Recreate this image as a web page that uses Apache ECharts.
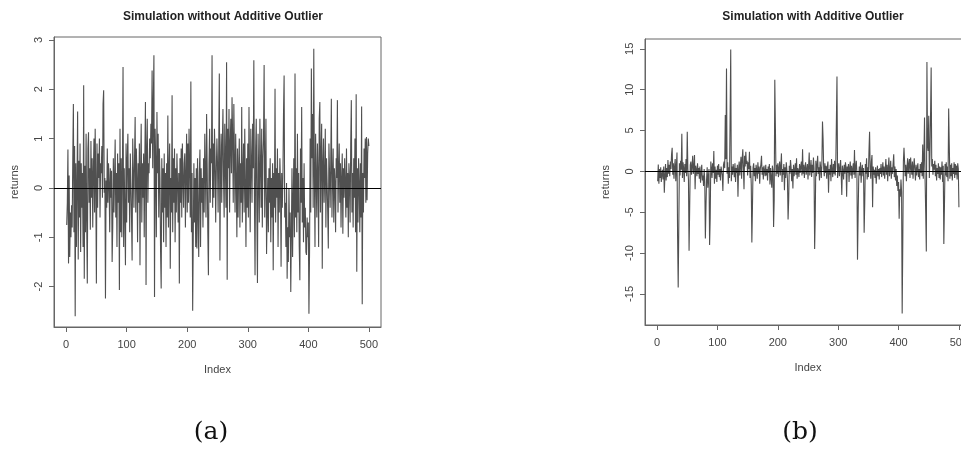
<!DOCTYPE html>
<html>
<head>
<meta charset="utf-8">
<script src="https://cdn.jsdelivr.net/npm/echarts@6/dist/echarts.min.js"></script>
<style>
  html, body { margin: 0; padding: 0; background: #fff; overflow: hidden; }
  /* the right panel runs past the page edge, as in the original figure */
  #chart { width: 1000px; height: 450px; }
</style>
</head>
<body>
<div id="chart"></div>
<script>
// returns, index 1..500
const simWithout = [
  -0.75, -0.3, 0.78, -1.53, 0.25, -1.4, -0.5, -1.0, -0.35, -0.8, 0.6, 1.7, -0.9, 0.85, -2.6, 0.5, -1.2, 0.1, 1.55, -1.45,
  0.55, -0.6, 0.9, -1.3, 0.5, -0.4, 0.3, -1.2, 2.08, -1.84, 0.45, -0.9, 1.1, -0.7, -1.94, 0.8, 1.13, -0.3, 0.4, -0.85,
  0.95, -0.2, 0.6, -0.8, 0.3, 1.0, -0.5, 1.2, 0.1, -1.94, 0.9, -0.4, 0.7, 0.2, 1.0, -0.6, 0.5, 0.3, 0.85, -0.2,
  1.7, 1.98, -0.1, 0.2, -2.24, 0.15, -0.4, 0.8, -0.3, 0.5, 0.1, -0.9, 0.4, -0.2, 0.35, -1.5, -0.8, 0.6, -0.5, 0.2,
  0.98, -0.6, 0.3, -1.2, 0.7, -0.3, 0.5, -2.07, 1.2, -0.9, 0.6, -1.0, 0.3, 2.45, -1.2, 0.4, -0.5, -1.57, 0.9, -0.7,
  0.6, 1.1, -0.3, 0.4, -0.9, 0.7, 0.1, -0.6, -1.47, 1.0, 0.3, -0.4, 0.6, 1.44, -0.5, 0.8, 0.2, -1.1, 0.5, -0.3,
  0.9, -1.57, 0.4, 1.3, -0.7, 0.5, -0.2, 0.7, -1.0, 0.6, 1.74, -1.97, 0.8, 1.4, -0.3, 0.5, 0.3, 1.0, 0.6, 1.3,
  0.9, 2.38, 0.4, 1.7, 2.69, -2.21, 1.2, 0.5, -1.0, 1.54, 0.3, 1.1, -0.6, 0.8, 0.2, -1.3, -2.04, 0.6, -0.5, 0.4,
  -1.1, 0.7, -0.4, 0.3, -1.2, 0.5, -0.6, 1.47, -0.8, 0.4, 0.9, -1.64, 0.2, -0.5, 1.88, -0.9, 0.6, -0.3, 0.8, -1.1,
  0.4, -0.5, 0.7, 0.1, -0.7, 0.3, -1.94, 0.6, -0.3, 0.8, -0.6, 0.9, 0.2, -0.4, 0.5, 0.7, -0.8, 0.3, 1.1, -0.5,
  0.9, -0.3, 1.2, 0.4, -0.6, 2.16, -0.9, 0.3, -2.49, -1.0, 0.5, -0.7, 0.2, -1.2, 0.4, -1.23, 0.6, -0.5, -1.4, 0.3,
  0.78, -1.2, 0.4, -0.3, 0.2, -0.8, 0.6, -0.5, 1.1, 0.3, -0.6, 1.5, 0.4, -0.9, -1.77, 0.5, 1.2, -0.3, 0.8, 0.5,
  2.69, -0.4, 0.9, -0.2, 1.2, 0.6, -0.7, 0.3, 1.0, 0.5, -0.5, 0.8, 2.32, -1.47, 0.4, 1.1, -0.3, 0.9, 1.6, 0.2,
  -0.6, 1.3, 0.5, -0.4, 2.55, -1.86, 1.2, 0.4, 1.6, -0.5, 0.9, 1.4, 0.3, 1.84, 1.0, -0.3, 1.7, 0.6, -0.5, 1.1,
  0.2, -1.0, 0.8, -0.6, 0.4, 1.0, -0.8, 0.5, -0.3, 1.64, -0.7, 0.3, 0.9, -0.5, 1.2, 0.1, -1.2, 0.6, -0.4, 0.9,
  -0.6, 1.64, 0.2, -0.9, 1.2, 0.5, -0.3, 1.3, 0.4, 2.59, -0.2, -1.77, 0.8, 1.4, -0.5, -1.93, 1.1, 0.3, -0.7, 1.4,
  0.5, -0.4, 1.2, -0.8, 0.6, 1.0, 2.49, -0.6, 0.3, 1.4, -1.34, -0.5, 0.2, -0.9, 0.4, -0.3, 0.6, -1.1, 0.2, -0.6,
  0.5, -1.67, 0.3, -0.4, 2.01, -0.7, 0.4, -0.2, 0.8, -1.2, 0.3, -0.5, 0.6, 0.1, -1.6, 0.3, -0.4, 0.2, 1.5, 2.28,
  -0.6, -0.3, -1.2, 0.1, -1.84, -0.8, -1.5, 0.0, -1.0, -0.5, -2.11, -0.9, 0.4, -1.4, -0.2, 0.6, -1.0, 2.32, -0.6, 0.4,
  -0.9, 1.1, -0.5, 0.3, -1.2, -1.87, 0.8, -0.3, 1.64, -0.7, 0.2, -1.1, 0.5, -0.8, -0.4, -1.3, -1.36, -0.6, -1.0, -0.7,
  -2.55, -1.3, 1.0, -0.5, 2.42, 0.6, 1.5, -0.4, 2.82, 0.3, -1.2, 1.1, 0.2, -0.6, 0.9, 0.3, -1.2, 1.4, 1.74, -0.5,
  0.7, 1.3, -1.64, 0.5, 1.0, -0.3, 0.2, 1.2, -0.8, 0.6, 0.1, -0.5, -1.23, 0.9, 0.3, -0.4, 0.5, 1.81, -0.6, 0.2,
  0.8, -0.7, 0.4, 0.1, -0.9, 0.6, 0.2, 1.78, -0.5, 0.3, 0.9, -0.3, 0.5, -0.8, 0.2, 0.7, -0.93, 0.4, -0.2, 0.6,
  0.1, -0.6, 0.8, -0.4, 0.3, -1.0, 0.5, 0.2, -0.7, 0.9, 1.78, -0.5, 0.3, -0.8, 0.6, -0.2, 1.0, -0.9, 1.9, -1.7,
  0.4, -0.7, 0.6, 0.1, -0.9, 0.5, -0.6, 1.65, -2.36, 0.3, -0.5, 0.8, 0.2, 1.0, -0.3, 1.03, -0.25, 0.7, 1.0, 0.85
]

// returns (with the additive outliers), index 1..500
const simWith = [
  -1.2, 0.85, -1.5, 0.3, -0.8, 0.5, -1.3, -0.4, 0.2, -1.0, 0.6, -2.6, -0.5, 0.9, -1.1, 0.4, -0.7, 1.4, -0.3, 0.8,
  -0.6, 1.2, 0.3, 2.1, 2.9, -0.4, 1.0, -0.9, 0.6, 1.5, -1.2, 0.7, 2.3, -8.1, -14.2, -6.6, 1.0, -0.5, 1.3, 0.2,
  4.6, -0.8, 1.1, 0.4, -1.3, 0.9, -0.2, 1.5, -0.6, 4.85, 0.3, -1.0, -9.7, -4.5, 0.8, 1.2, -0.4, 0.6, 1.9, -0.3,
  0.5, 2.0, -2.2, 0.7, 0.2, -0.6, 1.0, -0.3, 0.4, -0.9, 0.6, -1.4, -0.2, 0.8, -1.1, -0.5, -1.8, 0.3, -1.2, -8.2,
  -4.3, -1.0, 0.5, -2.0, -0.6, 0.3, -9.0, -5.7, 1.2, 0.4, -0.8, 1.0, -0.2, 2.5, -1.5, 0.6, -0.9, 0.2, -1.3, 0.7,
  -0.4, 0.9, -0.7, 0.3, -1.1, 0.6, 0.1, -0.5, -2.4, 0.8, 1.2, 0.4, 6.9, 1.5, 12.6, -0.3, 1.1, -1.5, 0.5, -0.8,
  6.8, 14.9, -1.2, 0.6, -0.4, 0.9, 0.2, -0.7, 1.0, -1.3, 0.4, -0.2, 0.8, -3.1, 0.3, 1.2, -0.5, 0.7, 1.8, -0.9,
  1.5, 2.7, 0.4, -2.2, 1.9, 0.6, 2.4, 0.9, 1.3, -0.5, 1.1, 0.3, 2.4, -0.8, 0.7, -1.6, -8.7, -4.4, 0.5, 1.0,
  -0.6, 0.4, -1.2, 0.8, 0.2, -0.9, 1.1, -0.3, 0.6, -1.5, 0.3, 0.9, 1.9, -0.4, 0.5, -1.0, 0.7, 0.1, -0.6, 0.8,
  -0.5, 0.3, -1.1, 0.6, -0.2, 0.9, -1.6, 0.4, -0.8, -2.0, 0.7, 0.2, -6.8, -3.5, 11.2, 5.4, -0.6, 0.8, -0.3, 1.0,
  -0.7, 0.4, 1.2, -0.5, 0.6, 2.2, -1.3, 0.3, -0.4, 0.9, -2.3, 0.5, -0.8, 1.1, 0.2, -1.0, -5.9, -3.5, 0.7, -0.3,
  1.4, 0.5, -1.2, 0.3, -2.1, 0.8, -0.6, 0.2, 1.0, -0.4, 1.6, -0.9, 0.4, 0.1, -0.7, 0.9, -0.2, 0.6, 1.2, -0.5,
  2.7, -0.3, 0.8, -0.8, 0.5, 1.1, -0.4, 0.2, 0.9, -1.0, 0.6, 2.3, -0.5, 0.3, 1.4, -0.7, 0.8, -0.2, 1.7, 0.4,
  -9.5, -5.5, 1.3, -0.6, 0.8, 1.9, -0.3, 0.5, -1.1, 1.2, 0.4, -0.8, 0.9, 6.1, 4.0, 0.3, -0.6, 1.0, -0.2, 0.7,
  -0.9, 0.5, 1.2, -2.6, 0.3, -0.4, 0.8, -1.2, 1.5, 0.2, -0.7, 0.9, -0.3, 1.3, -0.5, 0.6, 6.0, 11.6, -0.8, 0.4,
  1.0, -0.6, 0.3, 1.4, -0.4, -2.9, 0.7, 0.1, -1.0, 0.8, -0.3, 1.1, 0.5, -3.1, 0.6, -0.2, 0.9, -1.3, 0.4, 1.2,
  -0.5, 0.7, -0.9, 0.3, 1.0, -0.4, 2.6, -0.8, 0.5, 1.3, -0.2, -10.8, -5.5, -1.0, 0.6, -0.5, 1.1, -1.4, 0.2, 0.8,
  -0.6, 0.4, -7.5, -3.9, 0.9, -0.3, 1.6, -1.0, 0.5, -0.7, 2.5, 4.85, 0.3, -0.9, 1.2, 2.0, -4.4, 0.6, -0.4, 0.2,
  -0.8, 0.5, -1.5, -0.2, 0.7, -0.6, 0.3, -1.0, 0.4, -0.3, 0.9, -0.7, 0.2, 1.1, -0.5, 0.6, -0.9, 0.3, 1.5, -0.4,
  0.8, -1.2, 0.4, 1.7, -0.6, 0.2, 1.3, -0.9, 0.5, -0.3, 1.0, 2.1, -0.7, 0.6, -1.1, 0.3, -1.8, -0.5, -2.4, -1.3,
  -5.8, -2.2, -3.1, -1.0, -2.5, -17.4, -8.9, 1.2, 2.9, 2.7, -0.6, 0.8, -1.2, 0.4, 1.6, -0.3, 0.9, 1.5, -0.8, 1.7,
  0.5, -0.4, 1.2, -0.9, 0.6, 1.6, 0.2, -1.1, 0.8, -0.5, 0.4, 1.0, -0.7, 0.3, -1.0, 0.9, -0.2, 1.1, -0.6, 3.3,
  -0.9, 1.8, 6.6, -1.2, -5.1, -9.8, 13.4, 3.2, 2.5, 6.8, -0.8, 2.1, 6.9, 12.7, 0.6, 1.5, -0.4, 0.9, 0.2, 1.3,
  -0.6, 0.8, -1.1, 0.4, -0.3, 1.0, -0.8, 0.6, -1.0, 0.5, -0.4, 1.2, -1.3, 0.7, -8.9, -4.3, 0.9, -0.5, 1.1, -0.7,
  0.6, -1.2, 7.7, 3.3, -0.9, 0.8, -0.6, 1.0, -1.1, 0.4, -0.3, 1.1, -0.8, 0.9, -0.4, 0.7, -1.0, 1.0, 0.3, -4.4
]

const xTicks = [0, 100, 200, 300, 400, 500]
const yTicksLeft = [-2, -1, 0, 1, 2, 3]
const yTicksRight = [-15, -10, -5, 0, 5, 10, 15]

const chart = echarts.init(document.getElementById('chart'), null, { renderer: 'canvas' })

const axisGray = '#666'
const labelStyle = { color: '#444', fontSize: 11, fontFamily: 'Liberation Sans' }

const makeX = (grid) => ({
  type: 'value',
  gridIndex: grid,
  min: -20,
  max: 520,
  name: 'Index',
  nameLocation: 'middle',
  nameGap: 37,
  nameTextStyle: { ...labelStyle },
  axisLine: { show: true, onZero: false, lineStyle: { color: axisGray, width: 1 } },
  splitLine: { show: false },
  axisTick: { show: true, inside: false, customValues: xTicks, length: 5, lineStyle: { color: axisGray } },
  axisLabel: { ...labelStyle, customValues: xTicks, margin: 12 },
})

const makeY = (grid, min, max, ticks) => ({
  type: 'value',
  gridIndex: grid,
  min,
  max,
  name: 'returns',
  nameLocation: 'middle',
  nameGap: 34,
  nameTextStyle: { ...labelStyle },
  axisLine: { show: true, onZero: false, lineStyle: { color: axisGray, width: 1 } },
  splitLine: { show: false },
  axisTick: { show: true, inside: false, customValues: ticks, length: 5, lineStyle: { color: axisGray } },
  axisLabel: { ...labelStyle, customValues: ticks, rotate: 90, margin: 10 },
})

const zeroLine = {
  silent: true,
  symbol: 'none',
  label: { show: false },
  lineStyle: { color: '#000', width: 1, type: 'solid' },
  data: [{ yAxis: 0 }],
}

const option = {
  animation: false,
  backgroundColor: '#fff',
  title: [
    {
      text: 'Simulation without Additive Outlier',
      left: 218, top: 6, textAlign: 'center',
      textStyle: { fontSize: 12, fontWeight: 'bold', color: '#222', fontFamily: 'Liberation Sans' },
    },
    {
      text: 'Simulation with Additive Outlier',
      left: 808, top: 6, textAlign: 'center',
      textStyle: { fontSize: 12, fontWeight: 'bold', color: '#222', fontFamily: 'Liberation Sans' },
    },
    {
      text: '(a)',
      left: 206, top: 415, textAlign: 'center',
      textStyle: { fontSize: 25, fontWeight: 'normal', color: '#111', fontFamily: 'DejaVu Serif' },
    },
    {
      text: '(b)',
      left: 795, top: 415, textAlign: 'center',
      textStyle: { fontSize: 25, fontWeight: 'normal', color: '#111', fontFamily: 'DejaVu Serif' },
    },
  ],
  grid: [
    { left: 54, top: 37, width: 327, height: 290, show: true, borderColor: axisGray, borderWidth: 1 },
    { left: 645, top: 39, width: 326, height: 286, show: true, borderColor: axisGray, borderWidth: 1 },
  ],
  xAxis: [makeX(0), makeX(1)],
  yAxis: [makeY(0, -2.82, 3.06, yTicksLeft), makeY(1, -18.8, 16.2, yTicksRight)],
  series: [
    {
      type: 'line',
      xAxisIndex: 0,
      yAxisIndex: 0,
      data: simWithout.map((v, i) => [i + 1, v]),
      showSymbol: false,
      lineStyle: { color: '#505050', width: 1.1 },
      markLine: zeroLine,
    },
    {
      type: 'line',
      xAxisIndex: 1,
      yAxisIndex: 1,
      data: simWith.map((v, i) => [i + 1, v]),
      showSymbol: false,
      lineStyle: { color: '#505050', width: 1.1 },
      markLine: zeroLine,
    },
  ],
}

chart.setOption(option)
</script>
</body>
</html>
